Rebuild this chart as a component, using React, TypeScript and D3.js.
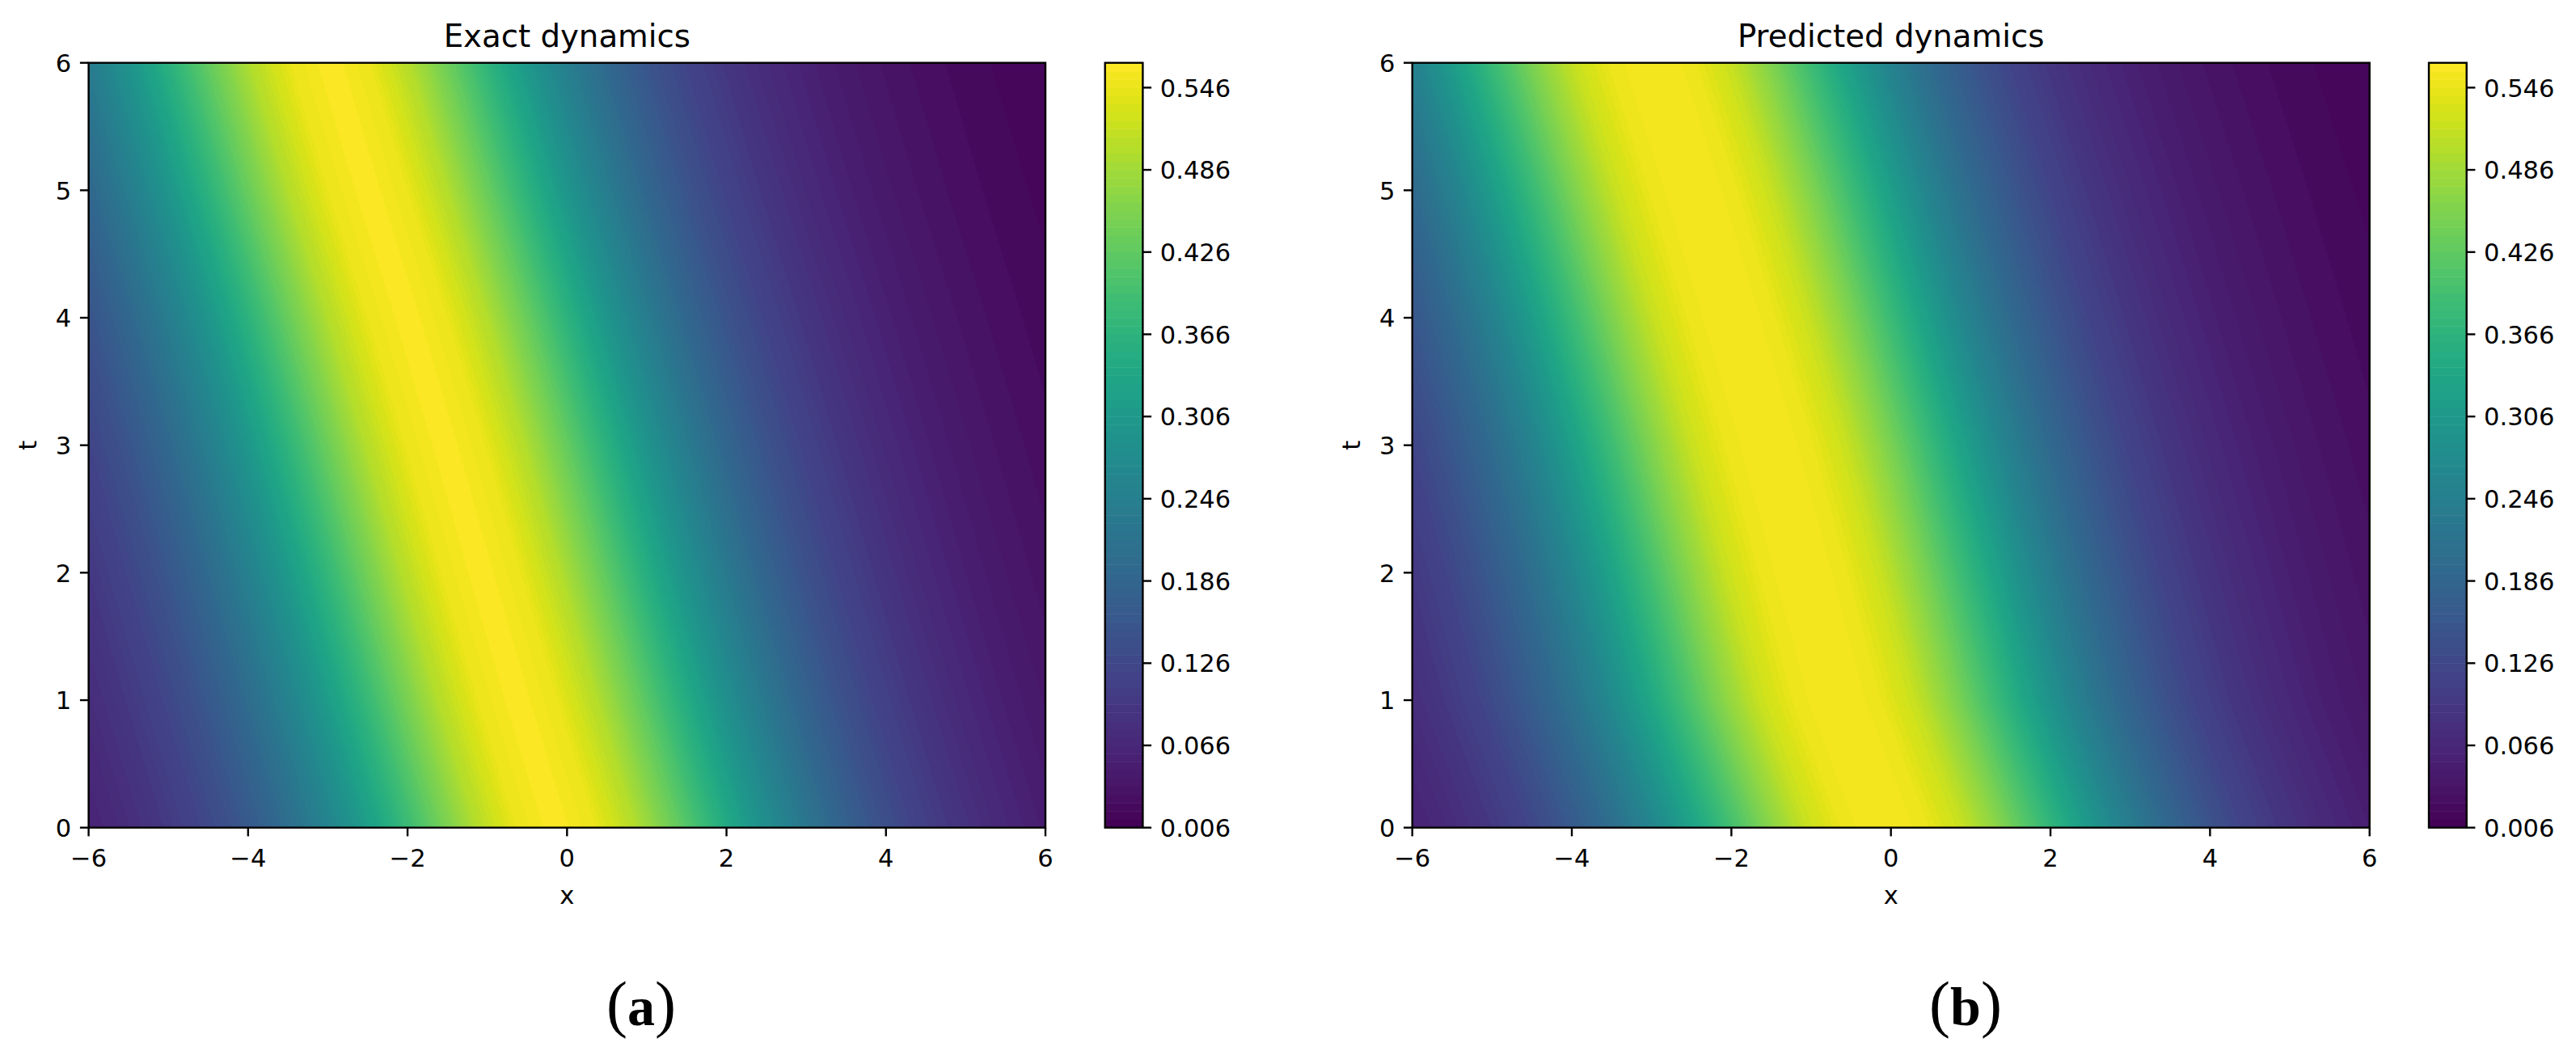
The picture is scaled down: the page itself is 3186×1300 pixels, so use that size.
import React from "react";
import * as d3 from "d3";

const width = 3186;
const height = 1300;

// eje común
const xTicks = [-6, -4, -2, 0, 2, 4, 6];
const tTicks = [0, 1, 2, 3, 4, 5, 6];
const barTicks = [0.006, 0.066, 0.126, 0.186, 0.246, 0.306, 0.366, 0.426, 0.486, 0.546];
const barMin = 0.006;
const barMax = 0.5641;
const levelStep = 0.006;

// distancia a la cresta de la onda
const offsets = d3.range(-9.5, 9.51, 0.5);

// valor leído a cada distancia de la cresta
const exactProfile = [
  0.0097, 0.0125, 0.016, 0.0206, 0.0265, 0.034, 0.0437, 0.056, 0.0717, 0.092, 0.117, 0.15, 0.19,
  0.24, 0.298, 0.365, 0.435, 0.4997, 0.546, 0.5635, 0.546, 0.4997, 0.435, 0.365, 0.298, 0.24,
  0.19, 0.15, 0.117, 0.092, 0.0717, 0.056, 0.0437, 0.034, 0.0265, 0.0206, 0.016, 0.0125, 0.0097,
];
const predictedProfile = [
  0.0097, 0.0125, 0.016, 0.0206, 0.0265, 0.034, 0.0437, 0.056, 0.0717, 0.092, 0.118, 0.155, 0.197,
  0.25, 0.315, 0.385, 0.455, 0.515, 0.55, 0.557, 0.55, 0.515, 0.455, 0.385, 0.315, 0.25,
  0.197, 0.155, 0.118, 0.092, 0.0717, 0.056, 0.0437, 0.034, 0.0265, 0.0206, 0.016, 0.0125, 0.0097,
];

// posición x de la cresta para cada t
const exactRidge = [-0.14, -0.62, -1.08, -1.53, -2.0, -2.5, -2.97];
const predictedRidge = [-0.08, -0.68, -1.1, -1.53, -2.0, -2.48, -2.99];

const levels = d3.range(barMin, barMax, levelStep);
const top = 77.7;
const bottom = 1023.7;
const fontSans = "DejaVu Sans";
const tickSize = 10.7;
const lineW = 2.4;
const fmtMinus = (v: number) => String(v).replace("-", "\u2212");

const color = (v: number) => d3.interpolateViridis((v - barMin) / (barMax - barMin));

interface PanelProps {
  left: number;
  right: number;
  barLeft: number;
  barRight: number;
  title: string;
  profile: number[];
  ridge: number[];
  tag: string;
  tagX: number;
  clipId: string;
}

const Panel: React.FC<PanelProps> = ({ left, right, barLeft, barRight, title, profile, ridge, tag, tagX, clipId }) => {
  const x = d3.scaleLinear().domain([-6, 6]).range([left, right]);
  const y = d3.scaleLinear().domain([0, 6]).range([bottom, top]);
  const yBar = d3.scaleLinear().domain([barMin, barMax]).range([bottom, top]);

  // rejilla alineada con la cresta: columnas = distancia, filas = t
  const n = offsets.length;
  const m = tTicks.length;
  const grid: number[] = [];
  tTicks.forEach(() => grid.push(...profile));
  const contours = d3.contours().size([n, m]).thresholds(levels.slice(1))(grid);

  const colToOffset = d3.scaleLinear().domain([0.5, n - 0.5]).range([offsets[0], offsets[n - 1]]);
  const rowToT = d3.scaleLinear().domain([0.5, m - 0.5]).range([0, 6]);
  const ridgeAt = d3.scaleLinear().domain(tTicks).range(ridge);
  const path = d3.geoPath(
    d3.geoTransform({
      point(c: number, r: number) {
        const t = rowToT(r);
        (this as any).stream.point(x(colToOffset(c) + ridgeAt(t)), y(t));
      },
    })
  );

  const mid = (left + right) / 2;
  const bandColor = (lo: number) => color(lo + levelStep / 2);

  return (
    <g fontFamily={fontSans} fill="#000">
      <text x={mid} y={58} textAnchor="middle" fontSize={38.7}>
        {title}
      </text>
      <clipPath id={clipId}>
        <rect x={left} y={top} width={right - left} height={bottom - top} />
      </clipPath>
      <g clipPath={`url(#${clipId})`}>
        <rect x={left} y={top} width={right - left} height={bottom - top} fill={bandColor(levels[0])} />
        {contours.map((c, i) => (
          <path key={i} d={path(c as any) ?? ""} fill={bandColor(levels[i + 1])} />
        ))}
      </g>
      <rect x={left} y={top} width={right - left} height={bottom - top} fill="none" stroke="#000" strokeWidth={lineW} />

      {/* Eje X */}
      {xTicks.map((v) => (
        <g key={v}>
          <line x1={x(v)} x2={x(v)} y1={bottom} y2={bottom + tickSize} stroke="#000" strokeWidth={lineW} />
          <text x={x(v)} y={1071.5} textAnchor="middle" fontSize={30.5}>
            {fmtMinus(v)}
          </text>
        </g>
      ))}
      <text x={mid} y={1118} textAnchor="middle" fontSize={30.5}>
        x
      </text>

      {/* Eje t */}
      {tTicks.map((v) => (
        <g key={v}>
          <line x1={left - tickSize} x2={left} y1={y(v)} y2={y(v)} stroke="#000" strokeWidth={lineW} />
          <text x={left - 21.4} y={y(v) + 11.2} textAnchor="end" fontSize={30.5}>
            {v}
          </text>
        </g>
      ))}
      <text
        transform={`translate(${left - 64.5},${(top + bottom) / 2}) rotate(-90)`}
        textAnchor="middle"
        fontSize={30.5}
      >
        t
      </text>

      {/* Barra de color */}
      {levels.map((lo) => (
        <rect
          key={lo}
          x={barLeft}
          width={barRight - barLeft}
          y={yBar(Math.min(lo + levelStep, barMax))}
          height={yBar(lo) - yBar(Math.min(lo + levelStep, barMax)) + 0.5}
          fill={bandColor(lo)}
        />
      ))}
      <rect x={barLeft} y={top} width={barRight - barLeft} height={bottom - top} fill="none" stroke="#000" strokeWidth={lineW} />
      {barTicks.map((v) => (
        <g key={v}>
          <line x1={barRight} x2={barRight + tickSize} y1={yBar(v)} y2={yBar(v)} stroke="#000" strokeWidth={lineW} />
          <text x={barRight + 21.4} y={yBar(v) + 11.2} fontSize={30.5}>
            {v.toFixed(3)}
          </text>
        </g>
      ))}

      <text x={tagX} y={1268} textAnchor="middle" fontSize={78} fontFamily="Liberation Serif">
        (<tspan fontWeight="bold" fontSize={68}>{tag}</tspan>)
      </text>
    </g>
  );
};

export default function App() {
  return (
    <svg
      width={width}
      height={height}
      viewBox={`0 0 ${width} ${height}`}
      style={{ position: "absolute", left: 0, top: 0, background: "#fff" }}
    >
      <Panel
        left={109.6}
        right={1293}
        barLeft={1366.7}
        barRight={1413.4}
        title="Exact dynamics"
        profile={exactProfile}
        ridge={exactRidge}
        tag="a"
        tagX={793}
        clipId="clip-a"
      />
      <Panel
        left={1746.7}
        right={2930.7}
        barLeft={3004}
        barRight={3050.7}
        title="Predicted dynamics"
        profile={predictedProfile}
        ridge={predictedRidge}
        tag="b"
        tagX={2431}
        clipId="clip-b"
      />
    </svg>
  );
}
